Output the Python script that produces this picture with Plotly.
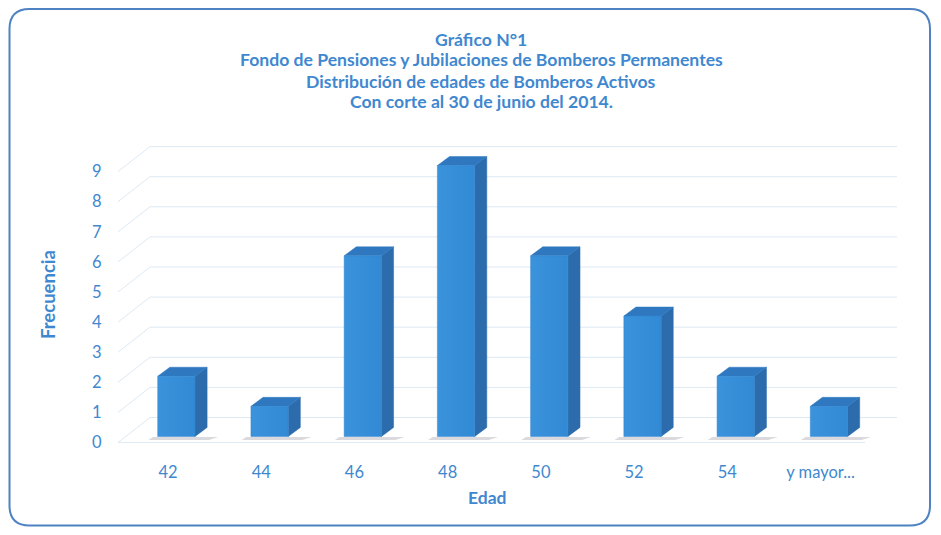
import plotly.graph_objects as go

# ---- data ----
categories = ["42", "44", "46", "48", "50", "52", "54", "y mayor..."]
frequencies = [2, 1, 6, 9, 6, 4, 2, 1]
y_ticks = [0, 1, 2, 3, 4, 5, 6, 7, 8, 9]

title_lines = [
    "Gráfico N°1",
    "Fondo de Pensiones y Jubilaciones de Bomberos Permanentes",
    "Distribución de edades de Bomberos Activos",
    "Con corte al 30 de junio del 2014.",
]
x_title = "Edad"
y_title = "Frecuencia"

# ---- geometry / style (figure sits at an 8px page offset) ----
W, H = 925, 519
ML, MR, MT, MB = 110, 36, 138, 80
X0, X1 = -0.536, 7.82
Y0, Y1 = -0.15, 9.85

bar_shift = 0.09
half_w = 0.2
base0 = 0.2
dx, dy = 0.13, 0.30
dxb, dyb = 0.343, 0.83

TXT = "#3f88d0"
FRONT_L = "#3b93dc"
FRONT_R = "#3289d4"
SIDE = "#2c6cad"
TOP = "#2f78c0"
GRID = "#dde9f3"
FONT = "Lato, 'Open Sans', sans-serif"

idx = list(range(len(categories)))
fig = go.Figure()

# back-wall grid and left-wall diagonals
gx, gy = [], []
for v in y_ticks:
    gx += [X0, X0 + dxb, X1, None]
    gy += [v, v + dyb, v + dyb, None]
gx += [X0, X1 - dxb, None]
gy += [0, 0, None]
fig.add_trace(go.Scatter(x=gx, y=gy, mode="lines", line=dict(color=GRID, width=1),
                         hoverinfo="skip", showlegend=False))

# shadows
shx, shy = [], []
for i, v in zip(idx, frequencies):
    c = i + bar_shift
    shx += [c - half_w - 0.05, c + half_w + dx + 0.12, c + half_w + dx + 0.02, c - half_w - 0.1, None]
    shy += [base0 - 0.02, base0 - 0.02, base0 - 0.12, base0 - 0.12, None]
fig.add_trace(go.Scatter(x=shx, y=shy, mode="none", fill="toself",
                         fillcolor="rgba(150,150,160,0.35)", hoverinfo="skip", showlegend=False))

# side faces
sx, sy = [], []
for i, v in zip(idx, frequencies):
    c = i + bar_shift
    r = c + half_w
    sx += [r, r + dx, r + dx, r, r, None]
    sy += [base0, base0 + dy, base0 + v + dy, base0 + v, base0, None]
fig.add_trace(go.Scatter(x=sx, y=sy, mode="lines", fill="toself", fillcolor=SIDE,
                         line=dict(color=SIDE, width=0.5), hoverinfo="skip", showlegend=False))

# top faces
tx, ty = [], []
for i, v in zip(idx, frequencies):
    c = i + bar_shift
    l, r = c - half_w, c + half_w
    t = base0 + v
    tx += [l, r, r + dx, l + dx, l, None]
    ty += [t, t, t + dy, t + dy, t, None]
fig.add_trace(go.Scatter(x=tx, y=ty, mode="lines", fill="toself", fillcolor=TOP,
                         line=dict(color=TOP, width=0.5), hoverinfo="skip", showlegend=False))

# front faces (one polygon per column, with horizontal gradient)
for i, v, cat in zip(idx, frequencies, categories):
    c = i + bar_shift
    l, r = c - half_w, c + half_w
    fig.add_trace(go.Scatter(
        x=[l, r, r, l, l], y=[base0, base0, base0 + v, base0 + v, base0],
        mode="lines", fill="toself",
        fillgradient=dict(type="horizontal", colorscale=[[0, FRONT_L], [1, FRONT_R]]),
        line=dict(color="#3085cf", width=0.5),
        hoveron="fills", name=f"{cat}: {v}", showlegend=False,
    ))

# rounded frame (paper coords)
def px2x(p):
    return (p - ML) / (W - ML - MR)

def py2y(p):
    return (H - MB - p) / (H - MT - MB)

fx0, fx1, fy0, fy1, rad = 1.5, 922, 1, 517.5, 20
path = (
    f"M {px2x(fx0 + rad)},{py2y(fy0)} L {px2x(fx1 - rad)},{py2y(fy0)} "
    f"Q {px2x(fx1)},{py2y(fy0)} {px2x(fx1)},{py2y(fy0 + rad)} "
    f"L {px2x(fx1)},{py2y(fy1 - rad)} Q {px2x(fx1)},{py2y(fy1)} {px2x(fx1 - rad)},{py2y(fy1)} "
    f"L {px2x(fx0 + rad)},{py2y(fy1)} Q {px2x(fx0)},{py2y(fy1)} {px2x(fx0)},{py2y(fy1 - rad)} "
    f"L {px2x(fx0)},{py2y(fy0 + rad)} Q {px2x(fx0)},{py2y(fy0)} {px2x(fx0 + rad)},{py2y(fy0)} Z"
)
fig.add_shape(type="path", path=path, xref="paper", yref="paper",
              line=dict(color="#4f82c2", width=2), layer="above")

# title lines
title_y = [32, 52, 73, 93]
for t, yy in zip(title_lines, title_y):
    fig.add_annotation(text=f"<b>{t}</b>", xref="paper", yref="paper",
                       x=px2x(473), y=py2y(yy), xanchor="center", yanchor="middle",
                       showarrow=False, font=dict(family=FONT, size=17.6, color=TXT))

# axis titles
fig.add_annotation(text=f"<b>{x_title}</b>", xref="paper", yref="paper",
                   x=px2x(479), y=py2y(489), xanchor="center", yanchor="middle",
                   showarrow=False, font=dict(family=FONT, size=17.5, color=TXT))
fig.add_annotation(text=f"<b>{y_title}</b>", xref="paper", yref="paper",
                   x=px2x(40), y=py2y(287), xanchor="center", yanchor="middle",
                   textangle=-90, showarrow=False, font=dict(family=FONT, size=18.5, color=TXT))

fig.update_layout(
    width=W, height=H,
    margin=dict(l=ML, r=MR, t=MT, b=MB),
    paper_bgcolor="white", plot_bgcolor="white",
    font=dict(family=FONT, color=TXT, size=16),
    hovermode="closest",
)
fig.update_xaxes(
    range=[X0, X1], tickmode="array", tickvals=idx, ticktext=categories,
    showgrid=False, zeroline=False, showline=False,
    ticks="outside", ticklen=10, tickcolor="rgba(0,0,0,0)",
    tickfont=dict(size=16.5, color=TXT),
)
fig.update_yaxes(
    range=[Y0, Y1], tickmode="array", tickvals=y_ticks,
    showgrid=False, zeroline=False, showline=False,
    ticks="outside", ticklen=12, tickcolor="rgba(0,0,0,0)",
    tickfont=dict(size=16.5, color=TXT),
)

fig.write_html("out.html")
